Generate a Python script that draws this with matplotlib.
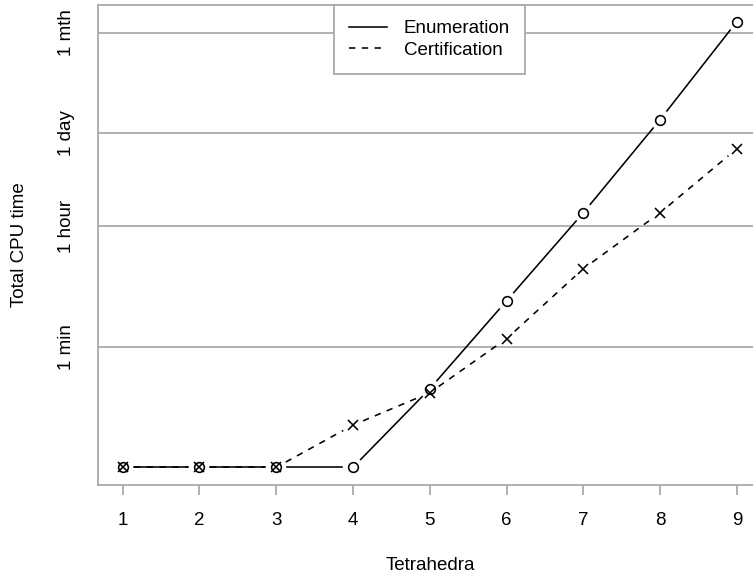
import matplotlib
matplotlib.use('Agg')
import matplotlib.pyplot as plt
from matplotlib.lines import Line2D
import numpy as np

tetrahedra = [1, 2, 3, 4, 5, 6, 7, 8, 9]
# total CPU time in seconds
enumeration = [1, 1, 1, 1, 14.4, 286, 5700, 134900, 3.77e6]
certification = [1, 1, 1, 4.2, 12.6, 79, 850, 5700, 50200]

tick_secs = [60, 3600, 86400, 2592000]
tick_names = ['1 min', '1 hour', '1 day', '1 mth']

plt.rcParams['font.family'] = ['Liberation Sans', 'DejaVu Sans']
GREY = '#aaaaaa'
FS = 13.5

fig = plt.figure(figsize=(7.53, 5.78), dpi=100)
ax = fig.add_axes([97.5 / 753, 1 - 485 / 578, 664 / 753, 480 / 578])

ax.set_yscale('log')
ax.set_xlim(0.674, 9.32)
ax.set_ylim(10 ** -0.26, 10 ** 6.82)

for s in ['top', 'right']:
    ax.spines[s].set_visible(False)
for s in ['left', 'bottom']:
    ax.spines[s].set_color(GREY)
    ax.spines[s].set_linewidth(1.3)

ax.set_xticks(tetrahedra)
ax.tick_params(axis='x', length=7.5, width=1.3, color=GREY, pad=12, labelsize=FS)
ax.set_yticks(tick_secs)
ax.set_yticklabels(tick_names, rotation=90, va='center')
ax.yaxis.set_minor_locator(matplotlib.ticker.NullLocator())
ax.tick_params(axis='y', length=0, pad=16, labelsize=FS)
for y in tick_secs:
    ax.axhline(y, color=GREY, lw=1.3, zorder=0)
ax.axhline(10 ** 6.82, color=GREY, lw=1.3, zorder=0, clip_on=False)


def draw_b(x, y, marker, ls):
    # R type="b": points with line segments broken around them
    gap = 11
    pts = ax.transData.transform(np.column_stack([x, y]))
    inv = ax.transData.inverted()
    for p, q in zip(pts[:-1], pts[1:]):
        d = q - p
        L = np.hypot(*d)
        if L <= 2 * gap:
            continue
        u = d / L
        a = inv.transform(p + u * gap)
        b = inv.transform(q - u * gap)
        ax.plot([a[0], b[0]], [a[1], b[1]], color='black', lw=1.15,
                ls=ls, dashes=(4, 4) if ls == '--' else (None, None))
    ax.plot(x, y, ls='none', marker=marker, ms=7, mfc='none', mec='black',
            mew=1.15)


draw_b(tetrahedra, enumeration, 'o', '-')
draw_b(tetrahedra, certification, 'x', '--')

handles = [Line2D([], [], color='black', lw=1.15),
           Line2D([], [], color='black', lw=1.15, ls='--', dashes=(4, 4))]
leg = ax.legend(handles, ['Enumeration', 'Certification'], loc='upper center',
                bbox_to_anchor=(0.5, 1.0), borderaxespad=0, fontsize=FS,
                fancybox=False, framealpha=1, edgecolor=GREY,
                handlelength=2.0, handletextpad=0.9, labelspacing=0.25,
                borderpad=0.8)
leg.get_frame().set_linewidth(1.3)

fig.text(430 / 753, 1 - 566 / 578, 'Tetrahedra', ha='center', va='center',
         fontsize=FS)
fig.text(20 / 753, 1 - 245 / 578, 'Total CPU time', ha='center', va='center',
         rotation=90, fontsize=FS)

fig.savefig('out.png', dpi=100)
